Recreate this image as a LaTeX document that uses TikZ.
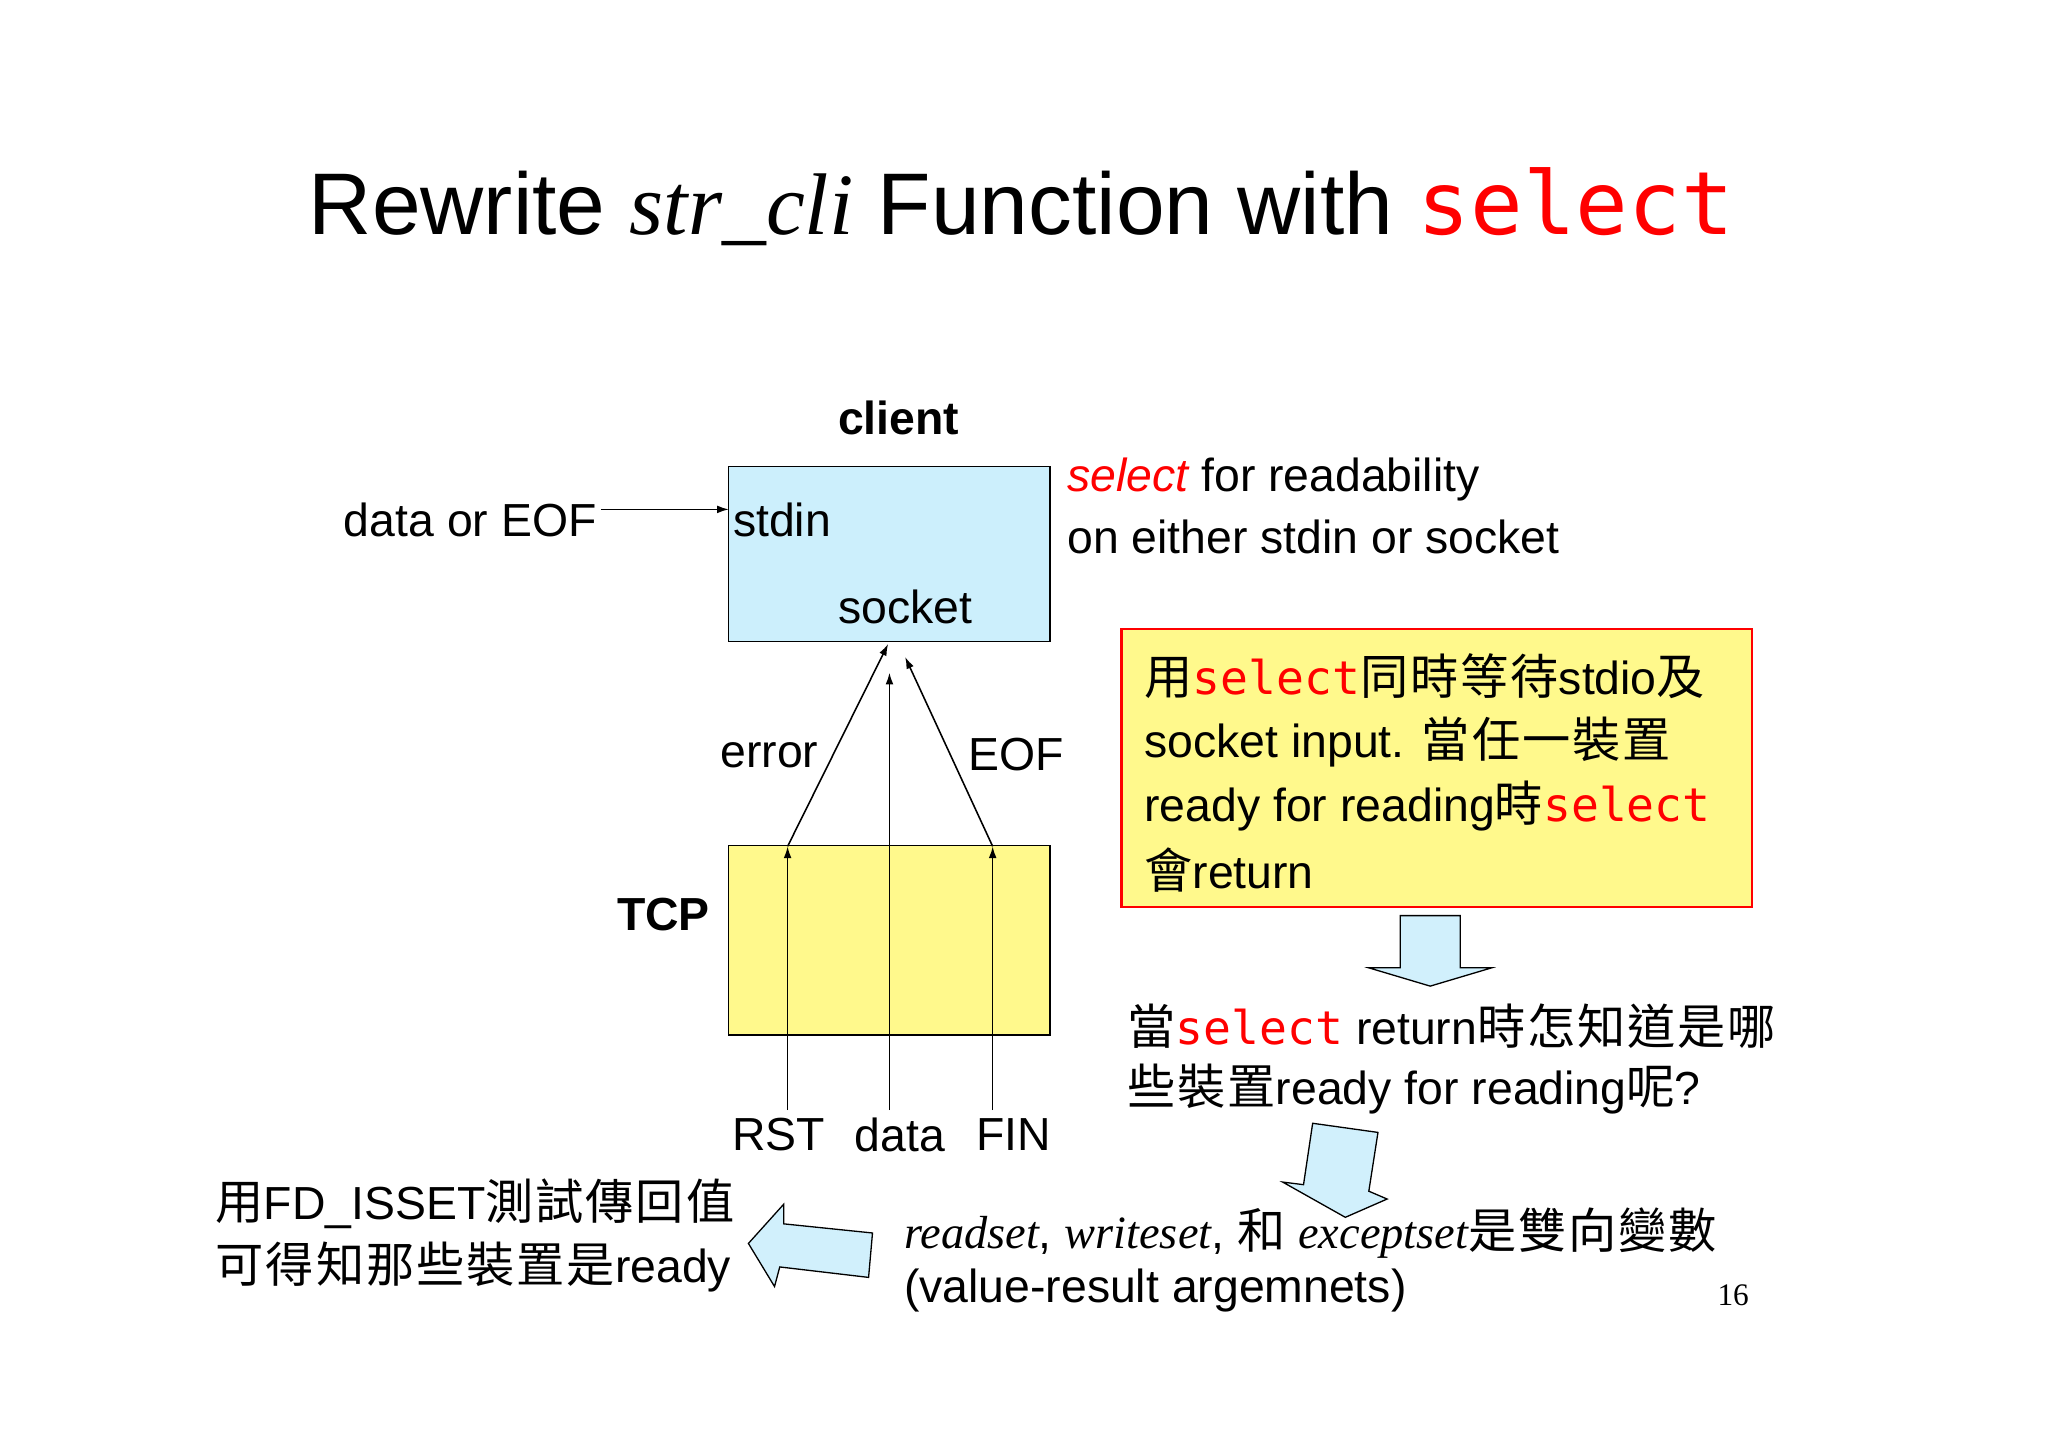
\documentclass[tikz,border=0pt]{standalone}
\usepackage{fontspec}
\setmainfont{Liberation Sans}
\newfontfamily\serifit{Liberation Serif}
\newfontfamily\mono{DejaVu Sans Mono}
\newfontfamily\cjk[Scale=1.04,LetterSpace=4]{Noto Sans CJK TC}
\usetikzlibrary{arrows.meta}
\newcommand{\sel}{{\mono\color{red}select}}
\newcommand{\zh}[1]{{\cjk #1}}
\begin{document}
\begin{tikzpicture}[x=1pt,y=-1pt,
  txt/.style={font=\fontsize{35.5}{40}\selectfont, inner sep=0pt},
  arr/.style={-{Latex[length=9pt,width=6pt]}, line width=1.2pt},
  blk/.style={draw, line width=1pt, fill=cyan!18, line join=miter}]
\useasboundingbox (0,0) rectangle (1568,1107);
\fill[white] (0,0) rectangle (1568,1107);
\node[inner sep=0pt, font=\fontsize{67}{70}\selectfont] (title) at (782,158) {Rewrite {\serifit\itshape str\_cli} Function with {\mono\color{red}select}};
\node[txt, font=\bfseries\fontsize{35.5}{40}\selectfont] (client) at (688,320) {client};
\node[draw, line width=1pt, fill=cyan!20, minimum width=246pt, minimum height=134pt, inner sep=0pt] (cbox) at (681,424) {};
\node[txt, anchor=west] (stdin) at (561,398) {stdin};
\node[txt] (socket) at (693,465) {socket};
\node[txt] (deof) at (360,398) {data or EOF};
\coordinate (ds) at (460,390); \coordinate (de) at (558,390);
\draw[arr] (ds) -- (de);
\node[txt, anchor=west] (s1) at (817,367) {{\color{red}\itshape select} for readability};
\node[txt, anchor=west] (s2) at (817,411) {on either stdin or socket};
\node[draw, line width=1pt, fill=yellow!45, minimum width=246pt, minimum height=145pt, inner sep=0pt] (tbox) at (681,720) {};
\node[txt, font=\bfseries\fontsize{35.5}{40}\selectfont] (tcp) at (508,700) {TCP};
\coordinate (r0) at (603,850); \coordinate (r1) at (603,648);
\coordinate (d0) at (681,850); \coordinate (d1) at (681,515);
\coordinate (f0) at (760,850); \coordinate (f1) at (760,648);
\coordinate (e1) at (680,493); \coordinate (o1) at (693,503);
\draw[arr] (r0) -- (r1); \draw[arr] (d0) -- (d1); \draw[arr] (f0) -- (f1);
\draw[arr] (r1) -- (e1); \draw[arr] (f1) -- (o1);
\node[txt] (err) at (589,578) {error};
\node[txt] (eof) at (778,578) {EOF};
\node[txt] (rst) at (596,869) {RST};
\node[txt] (data) at (689,869) {data};
\node[txt] (fin) at (776,869) {FIN};
\node[draw=red, line width=2pt, fill=yellow!45, minimum width=483pt, minimum height=213pt, inner sep=0pt] (ybox) at (1100,588) {};
\node[txt, anchor=west] (y1) at (876,518) {\zh{用}\sel\zh{同時等待}stdio\zh{及}};
\node[txt, anchor=west] (y2) at (876,568) {socket input. \zh{當任一裝置}};
\node[txt, anchor=west] (y3) at (876,617) {ready for reading\zh{時}\sel};
\node[txt, anchor=west] (y4) at (876,666) {\zh{會}return};
\draw[blk] (1072,701) -- (1118,701) -- (1118,741) -- (1142,741) -- (1095,755) -- (1048,741) -- (1072,741) -- cycle;
\node[txt, anchor=west] (q1) at (863,786) {\zh{當}\sel\ return\zh{時怎知道是哪}};
\node[txt, anchor=west] (q2) at (863,834) {\zh{些裝置}ready for reading\zh{呢}?};
\draw[blk] (1005,860) -- (1055,867) -- (1048,912) -- (1062,918) -- (1030,932) -- (982,905) -- (998,907) -- cycle;
\node[txt, anchor=west] (r1t) at (692,944) {{\serifit\itshape readset}, {\serifit\itshape writeset}, \zh{和} {\serifit\itshape exceptset}\zh{是雙向變數}};
\node[txt, anchor=west] (r2t) at (692,988) {(value-result argemnets)};
\node[inner sep=0pt, font=\serifit\fontsize{24}{28}\selectfont] (pg) at (1327,992) {16};
\draw[blk] (573,952) -- (600,922) -- (600,937) -- (668,944) -- (665,978) -- (597,970) -- (593,985) -- cycle;
\node[txt, anchor=west] (l1) at (165,922) {\zh{用}FD\_ISSET\zh{測試傳回值}};
\node[txt, anchor=west] (l2) at (165,970) {\zh{可得知那些裝置是}ready};
\end{tikzpicture}
\end{document}
